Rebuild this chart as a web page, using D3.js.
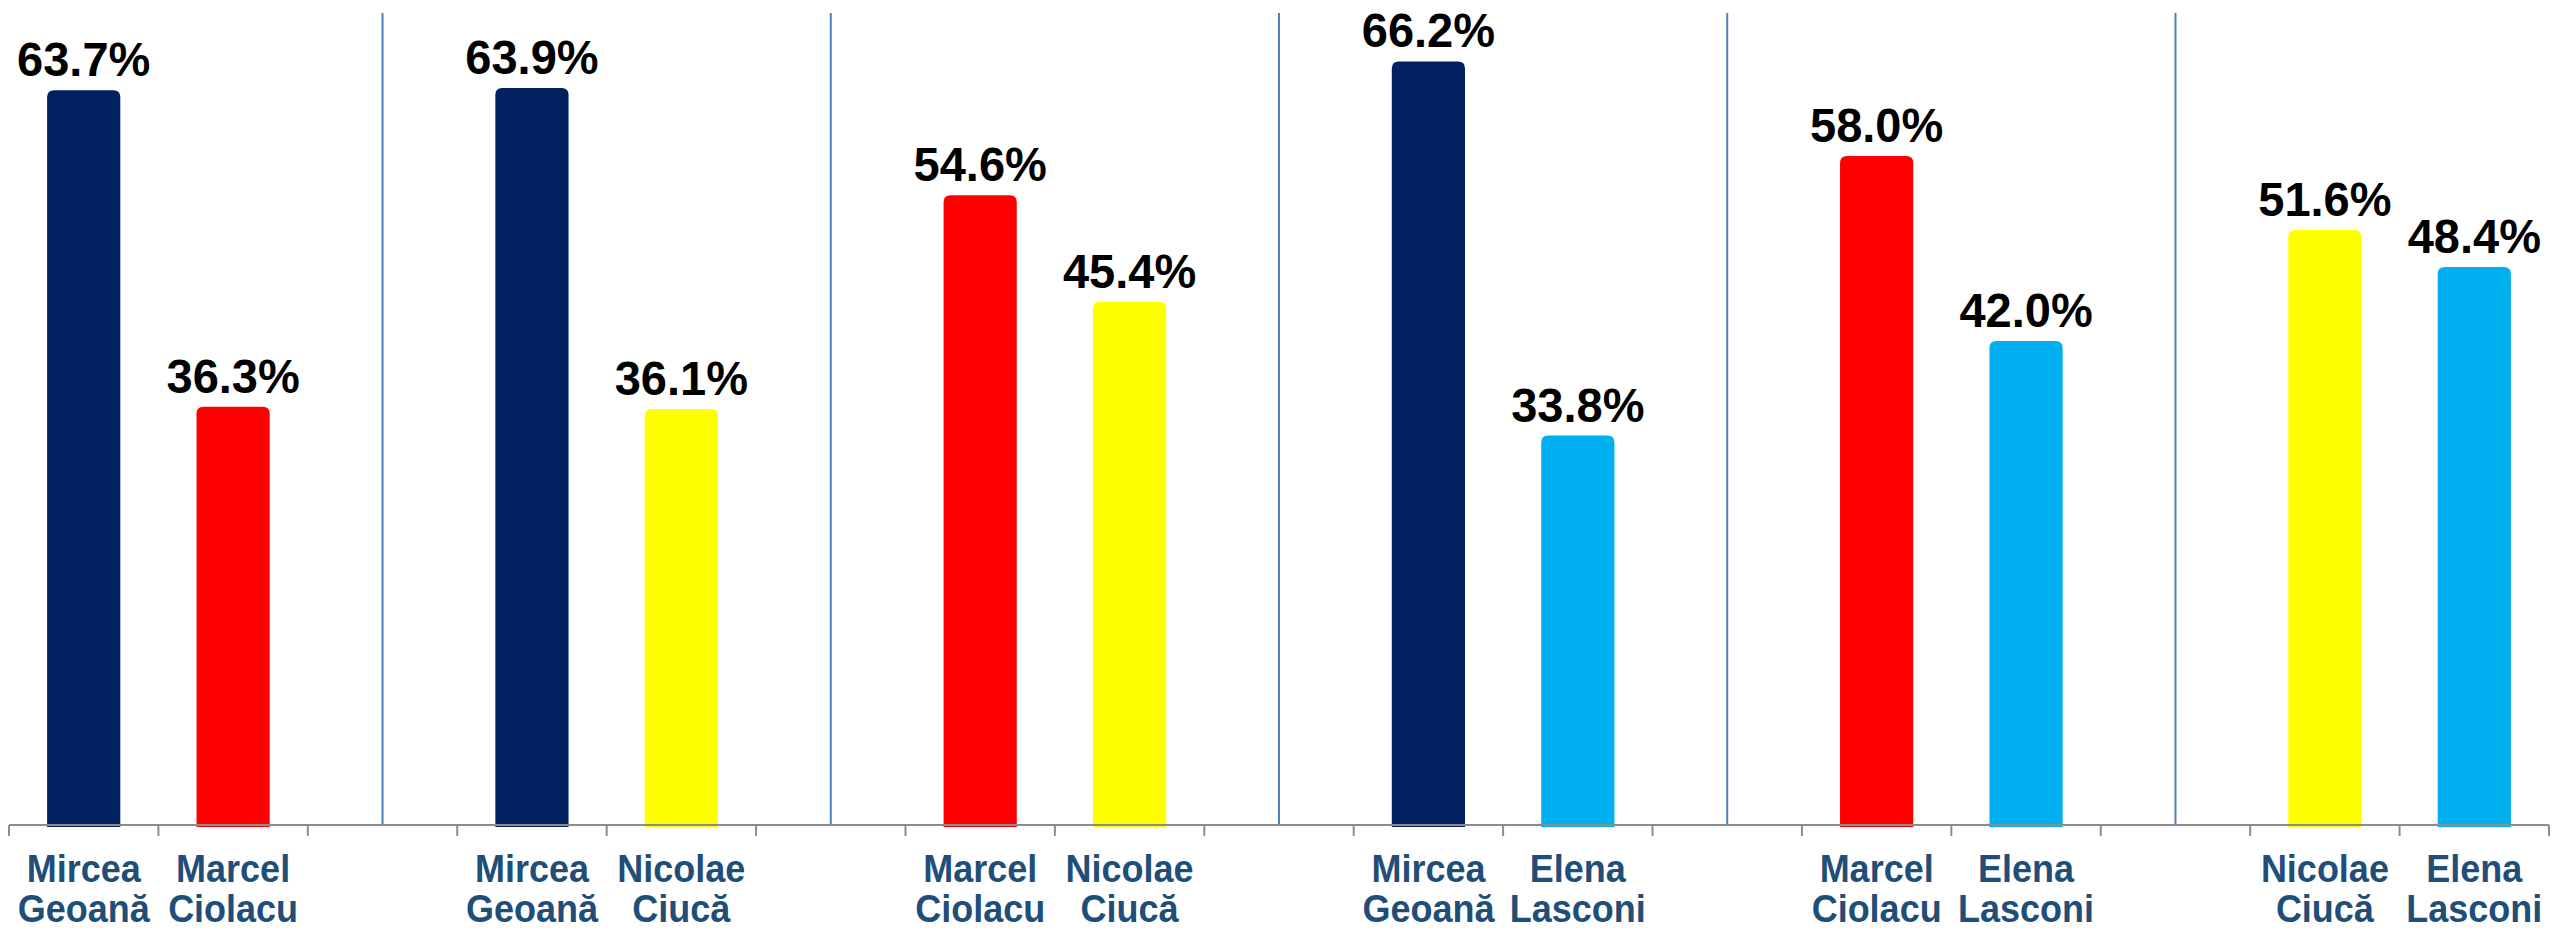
<!DOCTYPE html>
<html>
<head>
<meta charset="utf-8">
<script src="https://cdn.jsdelivr.net/npm/d3@7"></script>
<style>
  html, body { margin: 0; padding: 0; background: #fff; }
  svg { display: block; }
</style>
</head>
<body>
<svg id="chart"></svg>
<script>
// run-off pairings, one entry per duel
var firstNames = ['Mircea Geoană', 'Mircea Geoană', 'Marcel Ciolacu', 'Mircea Geoană', 'Marcel Ciolacu', 'Nicolae Ciucă'];
var firstValues = [63.7, 63.9, 54.6, 66.2, 58.0, 51.6];
var secondNames = ['Marcel Ciolacu', 'Nicolae Ciucă', 'Nicolae Ciucă', 'Elena Lasconi', 'Elena Lasconi', 'Elena Lasconi'];
var secondValues = [36.3, 36.1, 45.4, 33.8, 42.0, 48.4];

var candidates = ['Mircea Geoană', 'Marcel Ciolacu', 'Nicolae Ciucă', 'Elena Lasconi'];
var candidateColors = ['#002060', '#ff0000', '#ffff00', '#00b0f0'];

const width = 2552;
const height = 928;
const baseline = 826;

var svg = d3.select('#chart')
    .attr('width', width)
    .attr('height', height);

// build the slot list: two candidates per duel, an empty slot between duels
var slots = [];
firstNames.forEach(function(name, i) {
  slots.push({ key: 'a' + i, name: name, value: firstValues[i] });
  slots.push({ key: 'b' + i, name: secondNames[i], value: secondValues[i] });
  if (i < firstNames.length - 1) {
    slots.push({ key: 'gap' + i, gap: true });
  }
});

var x = d3.scaleBand()
    .domain(slots.map(function(d) { return d.key; }))
    .range([9, 2549])
    .padding(0);

var y = d3.scaleLinear()
    .domain([0, 70])
    .range([baseline, baseline - 70 * 11.55]);

var color = d3.scaleOrdinal()
    .domain(candidates)
    .range(candidateColors);

var barWidth = x.bandwidth() * 0.49;
var radius = 7;

function center(d) { return x(d.key) + x.bandwidth() / 2; }

function barPath(d) {
  var x0 = center(d) - barWidth / 2;
  var x1 = x0 + barWidth;
  var top = y(d.value);
  var bottom = baseline + 1;
  return 'M' + x0 + ',' + bottom +
    'V' + (top + radius) +
    'Q' + x0 + ',' + top + ' ' + (x0 + radius) + ',' + top +
    'H' + (x1 - radius) +
    'Q' + x1 + ',' + top + ' ' + x1 + ',' + (top + radius) +
    'V' + bottom + 'Z';
}

var bars = slots.filter(function(d) { return !d.gap; });
var gaps = slots.filter(function(d) { return d.gap; });

// separators between duels
svg.selectAll('line.sep')
  .data(gaps)
  .enter().append('line')
    .attr('class', 'sep')
    .attr('x1', center)
    .attr('x2', center)
    .attr('y1', 13)
    .attr('y2', baseline - 1)
    .attr('stroke', '#4f81bd')
    .attr('stroke-width', 2);

svg.selectAll('path.bar')
  .data(bars)
  .enter().append('path')
    .attr('class', 'bar')
    .attr('d', barPath)
    .attr('fill', function(d) { return color(d.name); });

// category axis, ticks on band edges
var axis = svg.append('g').attr('class', 'axis');
axis.append('line')
    .attr('x1', x.range()[0])
    .attr('x2', x.range()[1])
    .attr('y1', baseline - 1)
    .attr('y2', baseline - 1)
    .attr('stroke', '#8c8c8c')
    .attr('stroke-width', 2);

var edges = slots.map(function(d) { return x(d.key); }).concat([x.range()[1]]);
axis.selectAll('line.tick')
  .data(edges)
  .enter().append('line')
    .attr('class', 'tick')
    .attr('x1', function(d) { return d; })
    .attr('x2', function(d) { return d; })
    .attr('y1', baseline - 1)
    .attr('y2', baseline + 10)
    .attr('stroke', '#8c8c8c')
    .attr('stroke-width', 2);

svg.selectAll('text.value')
  .data(bars)
  .enter().append('text')
    .attr('class', 'value')
    .attr('transform', function(d) {
      return 'translate(' + center(d) + ',' + (y(d.value) - 14) + ') scale(1,1.03)';
    })
    .attr('text-anchor', 'middle')
    .attr('font-family', 'Liberation Sans, Arial, sans-serif')
    .attr('font-weight', 'bold')
    .attr('font-size', 47)
    .attr('fill', '#000')
    .text(function(d) { return d.value.toFixed(1) + '%'; });

// two-line candidate names, slightly stretched like the original
var nameLines = [];
bars.forEach(function(d) {
  d.name.split(' ').forEach(function(w, i) {
    nameLines.push({ word: w, cx: center(d), line: i });
  });
});

svg.selectAll('text.name')
  .data(nameLines)
  .enter().append('text')
    .attr('class', 'name')
    .attr('transform', function(d) {
      return 'translate(' + d.cx + ',' + (882 + d.line * 39.5) + ') scale(1,1.08)';
    })
    .attr('text-anchor', 'middle')
    .attr('font-family', 'Liberation Sans, Arial, sans-serif')
    .attr('font-weight', 'bold')
    .attr('font-size', 36)
    .attr('fill', '#1f4e79')
    .text(function(d) { return d.word; });
</script>
</body>
</html>
